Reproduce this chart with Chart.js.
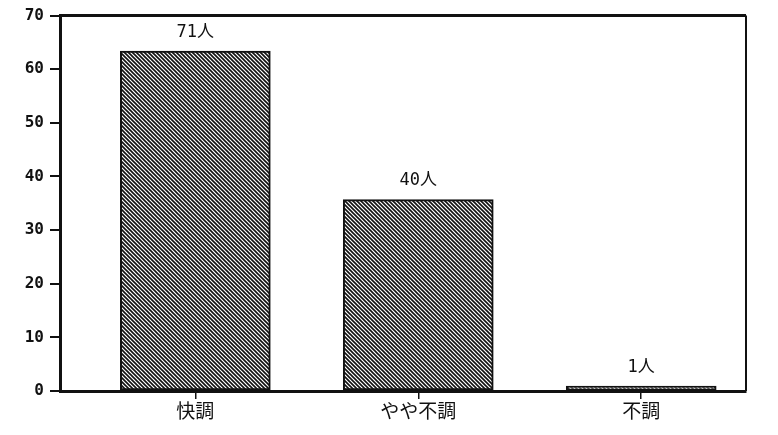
<!DOCTYPE html>
<html>
<head>
<meta charset="utf-8">
<script src="https://cdn.jsdelivr.net/npm/chart.js@4/dist/chart.umd.min.js"></script>
<style>
  html, body { margin: 0; padding: 0; background: #fff; }
  #wrap { width: 778px; height: 435px; position: relative; }
</style>
</head>
<body>
<div id="wrap"><canvas id="chart"></canvas></div>
<script>
// Data
const categories = ['快調', 'やや不調', '不調'];
const positions = [1, 2, 3];
const percents = [63.4, 35.7, 0.9];
const peopleLabels = ['71人', '40人', '1人'];
const yTicks = [0, 10, 20, 30, 40, 50, 60, 70];

// Diagonal hatch fill like the old printout
function makeHatch() {
    const c = document.createElement('canvas');
    c.width = 4; c.height = 4;
    const g = c.getContext('2d');
    g.fillStyle = '#fff';
    g.fillRect(0, 0, 4, 4);
    g.strokeStyle = '#111';
    g.lineWidth = 1.6;
    g.beginPath();
    g.moveTo(-1, -1); g.lineTo(5, 5);
    g.moveTo(-1, 3); g.lineTo(1, 5);
    g.moveTo(3, -1); g.lineTo(5, 1);
    g.stroke();
    return g.createPattern(c, 'repeat');
}

const numFont = "'DejaVu Sans Mono', 'Noto Sans CJK JP', monospace";
const jpFont = "'Noto Sans CJK JP', sans-serif";

// Frame on top and right plus the count labels above bars
const framePlugin = {
    id: 'frame',
    afterDatasetsDraw(chart) {
        const { ctx, chartArea: a } = chart;
        ctx.save();
        ctx.strokeStyle = '#111';
        ctx.lineWidth = 3;
        ctx.beginPath();
        ctx.moveTo(a.left, a.top);
        ctx.lineTo(a.right, a.top);
        ctx.stroke();
        ctx.lineWidth = 2;
        ctx.beginPath();
        ctx.moveTo(a.right, a.top);
        ctx.lineTo(a.right, a.bottom);
        ctx.stroke();

        const meta = chart.getDatasetMeta(0);
        ctx.fillStyle = '#111';
        ctx.font = '17px ' + numFont;
        ctx.textAlign = 'center';
        ctx.textBaseline = 'bottom';
        meta.data.forEach((bar, i) => {
            ctx.fillText(peopleLabels[i], bar.x, bar.y - 10);
        });
        ctx.restore();
    }
};

new Chart(document.getElementById('chart'), {
    type: 'bar',
    data: {
        datasets: [{
            data: positions.map((p, i) => ({ x: p, y: percents[i] })),
            backgroundColor: makeHatch(),
            borderColor: '#111',
            borderWidth: 2,
            borderSkipped: false,
            barThickness: 150
        }]
    },
    options: {
        responsive: true,
        maintainAspectRatio: false,
        animation: false,
        layout: { padding: { top: 11, right: 32, left: 0, bottom: 0 } },
        plugins: { legend: { display: false }, tooltip: { enabled: false } },
        scales: {
            x: {
                type: 'linear',
                min: 0.393,
                max: 3.47,
                offset: false,
                afterBuildTicks: (s) => { s.ticks = positions.map(v => ({ value: v })); },
                afterFit: (s) => { s.height = 44; },
                border: { color: '#111', width: 3 },
                grid: { offset: false, drawOnChartArea: false, drawTicks: true, tickLength: 8, color: '#111', lineWidth: 1.5 },
                ticks: {
                    color: '#111',
                    padding: 0,
                    font: { family: jpFont, size: 19 },
                    callback: (v) => categories[positions.indexOf(v)] || ''
                }
            },
            y: {
                min: 0,
                max: 70,
                afterBuildTicks: (s) => { s.ticks = yTicks.map(v => ({ value: v })); },
                afterFit: (s) => { s.width = 60; },
                border: { color: '#111', width: 3 },
                grid: { drawOnChartArea: false, drawTicks: true, tickLength: 10, color: '#111', lineWidth: 2 },
                ticks: {
                    color: '#111',
                    padding: 6,
                    font: { family: numFont, size: 16, weight: 'bold' }
                }
            }
        }
    },
    plugins: [framePlugin]
});
</script>
</body>
</html>
